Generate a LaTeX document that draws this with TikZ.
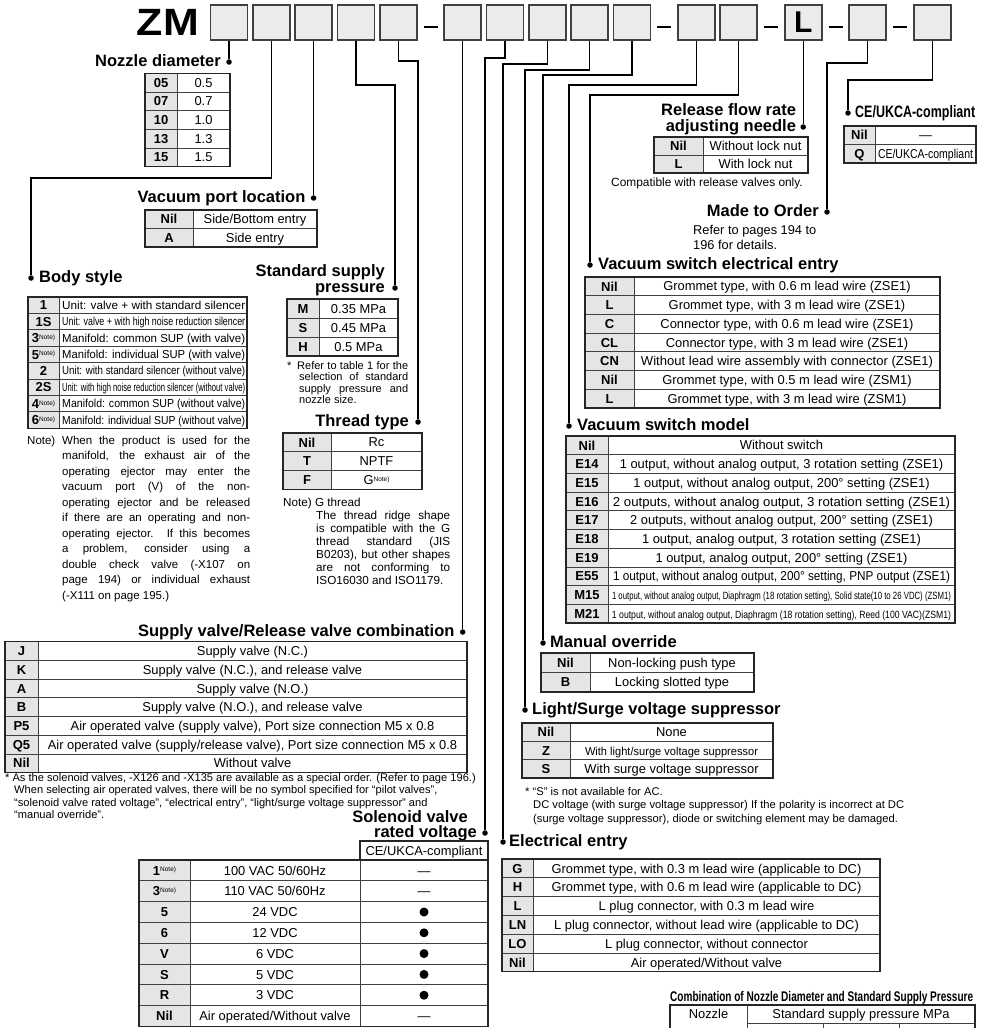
\documentclass[tikz,border=0pt]{standalone}
\usepackage{fontspec}
\setmainfont{Liberation Sans}
\usepackage{graphicx}
\usetikzlibrary{calc}
\newcommand\fsz[1]{\fontsize{#1}{#1}\selectfont}
\newcommand\nte{\raisebox{3.2pt}{\fsz{6.5}\mdseries Note)}}
\newcommand\fitw[2]{\resizebox{#1}{\height}{#2}}
\newcommand\tgrid[6]{%
  \pgfmathsetmacro\tgb{#4+#6*#5}%
  \fill[black!10] (#1,#4) rectangle (#2,\tgb);
  \pgfmathtruncatemacro\tgn{#6-1}%
  \foreach \k in {1,...,\tgn} {\draw[tbi] (#1,{#4+\k*#5}) -- (#3,{#4+\k*#5});}
  \draw[tbi] (#2,#4) -- (#2,\tgb);
  \draw[tbo] (#1,#4) rectangle (#3,\tgb);
}
\newcommand\trows[8]{%
  \foreach \ca/\tx [count=\i] in {#8} {
    \node[codec] (#1-c\i) at ({(#2+#3)/2},{#5+(\i-0.5)*#6}) {\ca};
    \node[cell,#7] (#1-t\i) at ({(#3+#4)/2},{#5+(\i-0.5)*#6}) {\tx};
  }%
}
\begin{document}
\begin{tikzpicture}[x=1pt,y=-1pt,
  tbi/.style={draw=black!75,line width=0.8pt},
  tbo/.style={draw=black!85,line width=1.2pt},
  codec/.style={inner sep=0pt,font=\bfseries\fsz{13},text height=9.3pt,text depth=0pt},
  cell/.style={inner sep=0pt,font=\fsz{12.9},text height=9.2pt,text depth=0pt},
  conn/.style={line width=1.4pt,draw=black},
  dot/.style={circle,fill=black,inner sep=0pt,minimum size=5.5pt},
  ttl/.style={inner sep=0pt,font=\bfseries\fsz{16.5}},
  note/.style={inner sep=0pt,font=\fsz{11.5}},
  hbox/.style={draw=black!75,fill=black!8,line width=1.6pt,minimum width=37pt,minimum height=35pt,inner sep=0pt},
  bigdot/.style={circle,fill=black,inner sep=0pt,minimum size=9pt}]
\useasboundingbox (0,0) rectangle (984,1028);
% ---------------- header
\node[inner sep=0pt,font=\bfseries\fsz{38}] (zm) at (168,22) {\fitw{62pt}{ZM}};
\foreach \n/\x in {1/229.0,2/271.3,3/313.6,4/355.9,5/398.2,6/462.7,7/505.0,8/547.3,9/589.6,10/631.9,11/696.4,12/738.7,13/803.2,14/867.7,15/932.2}
  \node[hbox] (b\n) at (\x,22.5) {};
\node[inner sep=0pt,font=\bfseries\fsz{30}] (bL) at (b13) {L};
\foreach \x in {430.5,664,771,835.5,900} \draw[line width=2.8pt] (\x-7,27) -- (\x+7,27);
\foreach \v in {58,61,63,64,70,75,80,85,95,178} \coordinate (y\v) at (0,\v);
% ---------------- dots
\node[dot] (d1) at (229.0,62) {};
\node[dot] (d2) at (31,278) {};
\node[dot] (d3) at (313.6,198) {};
\node[dot] (d4) at (395,288) {};
\node[dot] (d5) at (418,422) {};
\node[dot] (d6) at (462.7,632) {};
\node[dot] (d7) at (485,833) {};
\node[dot] (d8) at (503,842) {};
\node[dot] (d9) at (525,710) {};
\node[dot] (d10) at (543,643) {};
\node[dot] (d11) at (569,426) {};
\node[dot] (d12) at (590,265) {};
\node[dot] (d13) at (803.2,127) {};
\node[dot] (d14) at (827,212) {};
\node[dot] (d15) at (848,113) {};
% ---------------- connectors
\draw[conn] (b1.south) -- (d1);
\draw[conn] (b2.south) |- (d2 |- y178) -- (d2);
\draw[conn] (b3.south) -- (d3);
\draw[conn] (b4.south) |- (d4 |- y85) -- (d4);
\draw[conn] (b5.south) |- (d5 |- y61) -- (d5);
\draw[conn] (b6.south) -- (d6);
\draw[conn] (b7.south) |- (d7 |- y58) -- (d7);
\draw[conn] (b8.south) |- (d8 |- y64) -- (d8);
\draw[conn] (b9.south) |- (d9 |- y70) -- (d9);
\draw[conn] (b10.south) |- (d10 |- y75) -- (d10);
\draw[conn] (b11.south) |- (d11 |- y85) -- (d11);
\draw[conn] (b12.south) |- (d12 |- y95) -- (d12);
\draw[conn] (b13.south) -- (d13);
\draw[conn] (b14.south) |- (d14 |- y63) -- (d14);
\draw[conn] (b15.south) |- (d15 |- y80) -- (d15);
% ---------------- titles
\node[ttl,anchor=base east] (t1) at ($(d1.center)+(-8,4.5)$) {Nozzle diameter};
\node[ttl,anchor=base west] (t2) at ($(d2.center)+(8,4.5)$) {Body style};
\node[ttl,anchor=base east] (t3) at ($(d3.center)+(-8,4.5)$) {Vacuum port location};
\node[ttl,anchor=base east,text height=8.8pt,text depth=0pt] (t4b) at ($(d4.center)+(-10,4.5)$) {pressure};
\node[ttl,anchor=base east,text depth=0pt] (t4a) at ($(d4.center)+(-10,-11.5)$) {Standard supply};
\node[ttl,anchor=base east] (t5) at ($(d5.center)+(-9,4.5)$) {Thread type};
\node[ttl,anchor=base east] (t6) at ($(d6.center)+(-8,4.5)$) {Supply valve/Release valve combination};
\node[ttl,anchor=base east,text depth=0pt] (t7b) at ($(d7.center)+(-8,4.5)$) {rated voltage};
\node[ttl,anchor=base east,text depth=0pt] (t7a) at ($(d7.center)+(-17,-11)$) {Solenoid valve};
\node[ttl,anchor=base west] (t8) at ($(d8.center)+(6,4.5)$) {Electrical entry};
\node[ttl,anchor=base west] (t9) at ($(d9.center)+(7,4.5)$) {Light/Surge voltage suppressor};
\node[ttl,anchor=base west] (t10) at ($(d10.center)+(7,4.5)$) {Manual override};
\node[ttl,anchor=base west] (t11) at ($(d11.center)+(8,4.5)$) {Vacuum switch model};
\node[ttl,anchor=base west] (t12) at ($(d12.center)+(8,4.5)$) {Vacuum switch electrical entry};
\node[ttl,anchor=base east,text height=11.5pt] (t13b) at ($(d13.center)+(-7,4.5)$) {adjusting needle};
\node[ttl,anchor=base east,text depth=0pt] (t13a) at ($(d13.center)+(-7,-11.5)$) {Release flow rate};
\node[ttl,anchor=base east] (t14) at ($(d14.center)+(-8,4.5)$) {Made to Order};
\node[ttl,anchor=base west] (t15) at ($(d15.center)+(7,4.5)$) {\fitw{120pt}{CE/UKCA-compliant}};
% ---------------- tables
\tgrid{145}{177}{230}{73.3}{18.67}{5}
\trows{nz}{145}{177}{230}{73.3}{18.67}{}{05/0.5,07/0.7,10/1.0,13/1.3,15/1.5}
\tgrid{145}{193}{317}{210}{18.5}{2}
\trows{vp}{145}{193}{317}{210}{18.5}{}{Nil/{Side/Bottom entry},A/Side entry}
\tgrid{28}{59}{247}{297}{16.4}{8}
\trows{bs}{28}{59}{247}{297}{16.4}{anchor=west,xshift=-91pt,font=\fsz{11.6},text height=8.3pt}{%
 1/{\fitw{183pt}{Unit: valve + with standard silencer}},
 1S/{\fitw{183pt}{Unit: valve + with high noise reduction silencer}},
 {3\nte}/{\fitw{183pt}{Manifold: common SUP (with valve)}},
 {5\nte}/{\fitw{183pt}{Manifold: individual SUP (with valve)}},
 2/{\fitw{183pt}{Unit: with standard silencer (without valve)}},
 2S/{\fitw{183pt}{Unit: with high noise reduction silencer (without valve)}},
 {4\nte}/{\fitw{183pt}{Manifold: common SUP (without valve)}},
 {6\nte}/{\fitw{183pt}{Manifold: individual SUP (without valve)}}}
\tgrid{287}{319}{398}{299}{19}{3}
\trows{sp}{287}{319}{398}{299}{19}{}{M/0.35 MPa,S/0.45 MPa,H/0.5 MPa}
\tgrid{283}{331}{422}{433}{18.7}{3}
\trows{th}{283}{331}{422}{433}{18.7}{}{Nil/Rc,T/NPTF,F/{G\nte}}
\tgrid{5}{38}{467}{641.7}{18.7}{7}
\trows{su}{5}{38}{467}{641.7}{18.7}{}{%
 J/{Supply valve (N.C.)},
 K/{Supply valve (N.C.), and release valve},
 A/{Supply valve (N.O.)},
 B/{Supply valve (N.O.), and release valve},
 P5/{Air operated valve (supply valve), Port size connection M5 x 0.8},
 Q5/{Air operated valve (supply/release valve), Port size connection M5 x 0.8},
 Nil/{Without valve}}
% solenoid
\tgrid{139}{190}{488}{860}{20.8}{8}
\draw[tbi] (360,860) -- (360,1026.4);
\draw[tbo] (360,841) rectangle (488,860);
\node[cell] (svh) at (424,850.5) {CE/UKCA-compliant};
\trows{sv}{139}{190}{360}{860}{20.8}{}{{1\nte}/{100 VAC 50/60Hz},{3\nte}/{110 VAC 50/60Hz},5/24 VDC,6/12 VDC,V/6 VDC,S/5 VDC,R/3 VDC,Nil/{Air operated/Without valve}}
\foreach \i in {1,2,8} \node[cell] (sv-e\i) at (424,{860+(\i-0.5)*20.8}) {—};
\foreach \i in {3,...,7} \node[bigdot] (sv-e\i) at (424,{860+(\i-0.5)*20.8}) {};
% release needle
\tgrid{654}{703}{808}{137}{18}{2}
\trows{rn}{654}{703}{808}{137}{18}{}{Nil/Without lock nut,L/With lock nut}
% CE
\tgrid{844}{875}{976}{126}{18.5}{2}
\trows{ce}{844}{875}{976}{126}{18.5}{}{Nil/—,Q/{\fitw{95pt}{CE/UKCA-compliant}}}
% vacuum switch electrical entry
\tgrid{585}{634}{940}{277}{18.7}{7}
\trows{ve}{585}{634}{940}{277}{18.7}{}{%
 Nil/{Grommet type, with 0.6 m lead wire (ZSE1)},
 L/{Grommet type, with 3 m lead wire (ZSE1)},
 C/{Connector type, with 0.6 m lead wire (ZSE1)},
 CL/{Connector type, with 3 m lead wire (ZSE1)},
 CN/{\fitw{292pt}{Without lead wire assembly with connector (ZSE1)}},
 Nil/{Grommet type, with 0.5 m lead wire (ZSM1)},
 L/{Grommet type, with 3 m lead wire (ZSM1)}}
% vacuum switch model
\tgrid{566}{608}{955}{436}{18.7}{10}
\trows{vm}{566}{608}{955}{436}{18.7}{}{%
 Nil/{Without switch},
 E14/{1 output, without analog output, 3 rotation setting (ZSE1)},
 E15/{1 output, without analog output, 200° setting (ZSE1)},
 E16/{\fitw{337pt}{2 outputs, without analog output, 3 rotation setting (ZSE1)}},
 E17/{2 outputs, without analog output, 200° setting (ZSE1)},
 E18/{1 output, analog output, 3 rotation setting (ZSE1)},
 E19/{1 output, analog output, 200° setting (ZSE1)},
 E55/{\fitw{337pt}{1 output, without analog output, 200° setting, PNP output (ZSE1)}},
 M15/{\fitw{339pt}{\fsz{10.5}1 output, without analog output, Diaphragm (18 rotation setting), Solid state(10 to 26 VDC) (ZSM1)}},
 M21/{\fitw{339pt}{\fsz{10.5}1 output, without analog output, Diaphragm (18 rotation setting), Reed (100 VAC)(ZSM1)}}}
% manual override
\tgrid{541}{590}{754}{653}{19.5}{2}
\trows{mo}{541}{590}{754}{653}{19.5}{}{Nil/Non-locking push type,B/Locking slotted type}
% light/surge
\tgrid{522}{570}{773}{723}{18.3}{3}
\trows{ls}{522}{570}{773}{723}{18.3}{}{Nil/None,Z/{\fitw{173pt}{\fsz{11.5}With light/surge voltage suppressor}},S/With surge voltage suppressor}
% electrical entry
\tgrid{502}{533}{880}{859}{18.8}{6}
\trows{ee}{502}{533}{880}{859}{18.8}{}{%
 G/{Grommet type, with 0.3 m lead wire (applicable to DC)},
 H/{Grommet type, with 0.6 m lead wire (applicable to DC)},
 L/{L plug connector, with 0.3 m lead wire},
 LN/{L plug connector, without lead wire (applicable to DC)},
 LO/{L plug connector, without connector},
 Nil/{Air operated/Without valve}}
% combination table (cut by page edge)
\node[inner sep=0pt,anchor=base west,font=\bfseries\fsz{14}] (ct) at (670,1001) {\fitw{303pt}{Combination of Nozzle Diameter and Standard Supply Pressure}};
\draw[tbo] (670,1034) -- (670,1005) -- (975,1005) -- (975,1034);
\draw[tbi] (747,1005) -- (747,1034);
\draw[tbi] (747,1023) -- (975,1023);
\draw[tbi] (823,1023) -- (823,1034);
\draw[tbi] (899,1023) -- (899,1034);
\node[cell] (cn) at (708.5,1014) {Nozzle};
\node[cell] (cs) at (861,1014) {Standard supply pressure MPa};
% ---------------- notes
\node[note,anchor=base west] (bn1) at (27,444) {\makebox[223pt][s]{Note) When the product is used for the}};
\foreach \l [count=\k] in {{manifold, the exhaust air of the},{operating ejector may enter the},{vacuum port (V) of the non-},{operating ejector and be released},{if there are an operating and non-},{operating ejector. If this becomes},{a problem, consider using a},{double check valve (-X107 on},{page 194) or individual exhaust}}
  \node[note,anchor=base west] (bnl\k) at (62,{444+\k*15.5}) {\makebox[188pt][s]{\l}};
\node[note,anchor=base west] (bn11) at (62,{444+10*15.5}) {(-X111 on page 195.)};
\node[note,font=\fsz{11.7},anchor=base west] (tn0) at (283,506) {Note) G thread};
\foreach \l [count=\k] in {{The thread ridge shape},{is compatible with the G},{thread standard (JIS},{B0203), but other shapes},{are not conforming to}}
  \node[note,font=\fsz{11.7},anchor=base west] (tn\k) at (316,{506+\k*13}) {\makebox[134pt][s]{\l}};
\node[note,font=\fsz{11.7},anchor=base west] (tn6) at (316,584) {ISO16030 and ISO1179.};
\node[note,font=\fsz{11},anchor=base west] (sn0) at (287,369) {*};
\node[note,font=\fsz{11},anchor=base west] (sn1) at (297,369) {\makebox[111pt][s]{Refer to table 1 for the}};
\node[note,font=\fsz{11},anchor=base west] (sn2) at (299,380.5) {\makebox[109pt][s]{selection of standard}};
\node[note,font=\fsz{11},anchor=base west] (sn3) at (299,392) {\makebox[109pt][s]{supply pressure and}};
\node[note,font=\fsz{11},anchor=base west] (sn4) at (299,403.5) {nozzle size.};
\node[note,font=\fsz{11.1},anchor=base west] (vn1) at (5,781) {* As the solenoid valves, -X126 and -X135 are available as a special order. (Refer to page 196.)};
\node[note,font=\fsz{11.1},anchor=base west] (vn2) at (14,793.5) {When selecting air operated valves, there will be no symbol specified for “pilot valves”,};
\node[note,font=\fsz{11.1},anchor=base west] (vn3) at (14,806) {“solenoid valve rated voltage”, “electrical entry”, “light/surge voltage suppressor” and};
\node[note,font=\fsz{11.1},anchor=base west] (vn4) at (14,818.5) {“manual override”.};
\node[note,font=\fsz{11.9},anchor=base west] (rn) at (611,186) {Compatible with release valves only.};
\node[note,font=\fsz{12.8},anchor=base west] (mo1) at (693,234) {Refer to pages 194 to};
\node[note,font=\fsz{12.8},anchor=base west] (mo2) at (693,249) {196 for details.};
\node[note,font=\fsz{11.2},anchor=base west] (ln1) at (525,795) {* “S” is not available for AC.};
\node[note,font=\fsz{11.2},anchor=base west] (ln2) at (533,808.5) {DC voltage (with surge voltage suppressor) If the polarity is incorrect at DC};
\node[note,font=\fsz{11.2},anchor=base west] (ln3) at (533,822) {(surge voltage suppressor), diode or switching element may be damaged.};
\end{tikzpicture}
\end{document}
